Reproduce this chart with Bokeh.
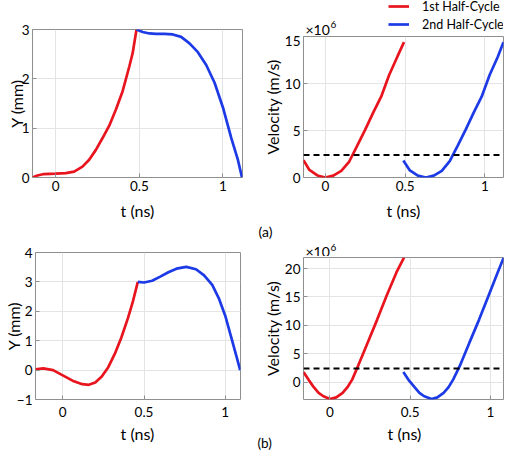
from bokeh.plotting import figure
from bokeh.layouts import row, column
from bokeh.models import Range1d, Label, Legend, LegendItem, Span, FixedTicker, Title
from bokeh.embed import file_html
from bokeh.resources import INLINE

# ---------------- data ----------------
x_ticks = [0, 0.5, 1]
x_tick_labels = {0: "0", 0.5: "0.5", 1: "1"}

# (a) displacement, mm
t_a_y_red = [-0.139, -0.11, -0.07, 0.0, 0.06, 0.11, 0.16, 0.20, 0.24, 0.28, 0.32, 0.36, 0.40, 0.44, 0.46, 0.483]
y_a_red = [0.0, 0.04, 0.07, 0.08, 0.09, 0.12, 0.22, 0.36, 0.56, 0.80, 1.05, 1.38, 1.75, 2.25, 2.52, 3.0]
t_a_y_blue = [0.483, 0.52, 0.56, 0.60, 0.65, 0.70, 0.75, 0.80, 0.85, 0.90, 0.95, 1.00, 1.05, 1.09, 1.114]
y_a_blue = [3.0, 2.95, 2.92, 2.91, 2.91, 2.90, 2.85, 2.72, 2.54, 2.28, 1.92, 1.42, 0.80, 0.35, 0.0]

# (a) velocity, x10^6 m/s
t_a_v_red = [-0.137, -0.10, -0.05, 0.0, 0.05, 0.10, 0.15, 0.20, 0.25, 0.30, 0.35, 0.40, 0.45, 0.493]
v_a_red = [1.85, 0.8, 0.22, 0.0, 0.2, 0.7, 1.7, 3.4, 5.1, 6.9, 8.6, 10.9, 12.8, 14.4]
t_a_v_blue = [0.489, 0.53, 0.58, 0.63, 0.68, 0.73, 0.78, 0.83, 0.88, 0.93, 0.98, 1.03, 1.08, 1.117]
v_a_blue = [1.8, 0.75, 0.2, 0.0, 0.2, 0.7, 1.75, 3.4, 5.1, 6.9, 8.6, 10.9, 12.8, 14.4]

# (b) displacement, mm
t_b_y_red = [-0.168, -0.12, -0.06, 0.0, 0.06, 0.12, 0.16, 0.20, 0.24, 0.28, 0.32, 0.36, 0.40, 0.43, 0.462]
y_b_red = [0.03, 0.06, 0.0, -0.18, -0.36, -0.48, -0.50, -0.42, -0.22, 0.10, 0.55, 1.10, 1.75, 2.30, 3.0]
t_b_y_blue = [0.462, 0.50, 0.55, 0.60, 0.65, 0.70, 0.76, 0.82, 0.87, 0.92, 0.96, 1.00, 1.04, 1.07, 1.092]
y_b_blue = [3.0, 2.98, 3.04, 3.18, 3.33, 3.45, 3.51, 3.43, 3.22, 2.90, 2.45, 1.85, 1.05, 0.45, 0.0]

# (b) velocity, x10^6 m/s
t_b_v_red = [-0.164, -0.13, -0.10, -0.07, -0.04, 0.0, 0.04, 0.08, 0.11, 0.14, 0.175, 0.235, 0.295, 0.355, 0.415, 0.462]
v_b_red = [1.76, 0.3, -0.9, -1.9, -2.5, -2.98, -2.7, -1.9, -0.9, 0.47, 2.8, 6.9, 11.0, 15.3, 19.3, 21.9]
t_b_v_blue = [0.458, 0.49, 0.528, 0.558, 0.588, 0.634, 0.67, 0.709, 0.74, 0.769, 0.809, 0.869, 0.93, 0.99, 1.05, 1.083]
v_b_blue = [1.76, 0.4, -0.9, -1.9, -2.5, -2.98, -2.7, -1.9, -0.9, 0.47, 2.8, 6.9, 11.0, 15.3, 19.6, 21.9]

threshold_1e6 = 2.4

series_labels = ["1st Half-Cycle", "2nd Half-Cycle"]
panel_labels = ["(a)", "(b)"]
x_label = "t (ns)"
exp_base, exp_power = "×10", "6"

# ---------------- style ----------------
FONT = "Lato"
RED = "#e8141e"
BLUE = "#1c3ae6"
FRAME = "#8f8f8f"
GRID = "#e4e4e4"
LW = 2.7
TICK_FS = "13.5px"
LABEL_FS = "16px"


def make_fig(w, h, xr, yr, yticks, ylabel, mb, xlabel=True, xstand=(3, 7), ystand=0):
    p = figure(width=w, height=h, x_range=Range1d(*xr), y_range=Range1d(*yr),
               output_backend="svg", toolbar_location=None,
               min_border_left=mb[0], min_border_right=mb[1],
               min_border_top=mb[2], min_border_bottom=mb[3])
    p.background_fill_color = "white"
    p.border_fill_color = "white"
    p.outline_line_color = FRAME
    p.xaxis.ticker = FixedTicker(ticks=x_ticks)
    p.xaxis.major_label_overrides = x_tick_labels
    p.yaxis.ticker = FixedTicker(ticks=yticks)
    for ax in (p.xaxis[0], p.yaxis[0]):
        ax.axis_line_color = None
        ax.major_tick_line_color = FRAME
        ax.major_tick_in = 4
        ax.major_tick_out = 0
        ax.minor_tick_line_color = None
        ax.major_label_text_font = FONT
        ax.major_label_text_font_size = TICK_FS
        ax.major_label_text_color = "black"
        ax.axis_label_text_font = FONT
        ax.axis_label_text_font_size = LABEL_FS
        ax.axis_label_text_font_style = "normal"
        ax.axis_label_text_color = "black"
    if xlabel:
        p.xaxis.axis_label = x_label
    p.yaxis.axis_label = ylabel
    p.xaxis.major_label_standoff = xstand[0]
    p.xaxis.axis_label_standoff = xstand[1]
    p.yaxis.major_label_standoff = 3
    p.yaxis.axis_label_standoff = ystand
    p.grid.grid_line_color = GRID
    return p


def make_strip(w, h, mbl=0, mbr=0):
    # text-only strip: no axes; its frame holds the texts
    s = figure(width=w, height=h, x_range=Range1d(10, 11), y_range=Range1d(100, 101),
               x_axis_type=None, y_axis_type=None,
               output_backend="svg", toolbar_location=None,
               min_border_left=mbl, min_border_right=mbr, min_border_top=0, min_border_bottom=0)
    s.grid.visible = False
    s.outline_line_color = None
    s.background_fill_color = "white"
    s.border_fill_color = "white"
    return s


def text_label(s, x, y, text, size, align="left", baseline="middle"):
    s.add_layout(Label(x=x, y=y, x_units="screen", y_units="screen", text=text,
                       text_font=FONT, text_font_size=size, text_color="black",
                       text_align=align, text_baseline=baseline))


def exp_label(s, y_mid):
    text_label(s, 2, y_mid, exp_base, "14px")
    text_label(s, 27, y_mid + 4.3, exp_power, "10px")


# ---------------- (a) ----------------
pa1 = make_fig(251, 241, (-0.139, 1.117), (0, 3), [0, 1, 2, 3], "Y (mm)", (32, 9, 29, 64), ystand=-7)
pa1.line(t_a_y_red, y_a_red, line_color=RED, line_width=LW)
pa1.line(t_a_y_blue, y_a_blue, line_color=BLUE, line_width=LW)

sa = make_strip(253, 35, 52, 1)
exp_label(sa, 6.5)
lr = sa.line(t_a_v_red, v_a_red, line_color=RED, line_width=LW)
lb = sa.line(t_a_v_blue, v_a_blue, line_color=BLUE, line_width=LW)
legend = Legend(items=[LegendItem(label=series_labels[0], renderers=[lr]),
                       LegendItem(label=series_labels[1], renderers=[lb])],
                location=(85, 2), orientation="vertical",
                glyph_width=21, glyph_height=18, label_height=18, label_width=10,
                label_standoff=13, spacing=0, padding=0, margin=0,
                label_text_font=FONT, label_text_font_size="12.5px", label_text_color="black",
                background_fill_alpha=0, border_line_color=None)
sa.add_layout(legend)

pa2 = make_fig(253, 206, (-0.137, 1.117), (0, 15), [0, 5, 10, 15], "Velocity (m/s)", (52, 1, 1, 64))
pa2.line(t_a_v_red, v_a_red, line_color=RED, line_width=LW)
pa2.line(t_a_v_blue, v_a_blue, line_color=BLUE, line_width=LW)
pa2.add_layout(Span(location=threshold_1e6, dimension="width", line_color="black",
                    line_width=2, line_dash="6 4"))
pa2.add_layout(Title(text=panel_labels[0], align="left", offset=-45, standoff=-3,
                     text_font=FONT, text_font_size="14px", text_font_style="normal",
                     text_color="black"), "below")

# ---------------- (b) ----------------
pb1 = make_fig(251, 182, (-0.168, 1.094), (-1, 4), [-1, 0, 1, 2, 3, 4], "Y (mm)", (35, 11, 11, 24),
               xlabel=False, xstand=(7, 0), ystand=-9)
pb1.line(t_b_y_red, y_b_red, line_color=RED, line_width=LW)
pb1.line(t_b_y_blue, y_b_blue, line_color=BLUE, line_width=LW)

sb = make_strip(253, 15, 52, 1)
exp_label(sb, 5)

pb2 = make_fig(253, 167, (-0.164, 1.082), (-3.07, 21.94), [0, 5, 10, 15, 20], "Velocity (m/s)", (52, 1, 1, 24),
               xlabel=False, xstand=(7, 0))
pb2.line(t_b_v_red, v_b_red, line_color=RED, line_width=LW)
pb2.line(t_b_v_blue, v_b_blue, line_color=BLUE, line_width=LW)
pb2.add_layout(Span(location=threshold_1e6, dimension="width", line_color="black",
                    line_width=2, line_dash="6 4"))

# bottom text strip: x-axis titles of (b) and the panel tag
sc = make_strip(504, 28)
text_label(sc, 137, 18.5, x_label, LABEL_FS, align="center")
text_label(sc, 404, 18.5, x_label, LABEL_FS, align="center")
text_label(sc, 257, 8.5, panel_labels[1], "13.5px", align="left")

layout = column(row(pa1, column(sa, pa2)), row(pb1, column(sb, pb2)), sc)
open("out.html", "w").write(file_html(layout, INLINE))
